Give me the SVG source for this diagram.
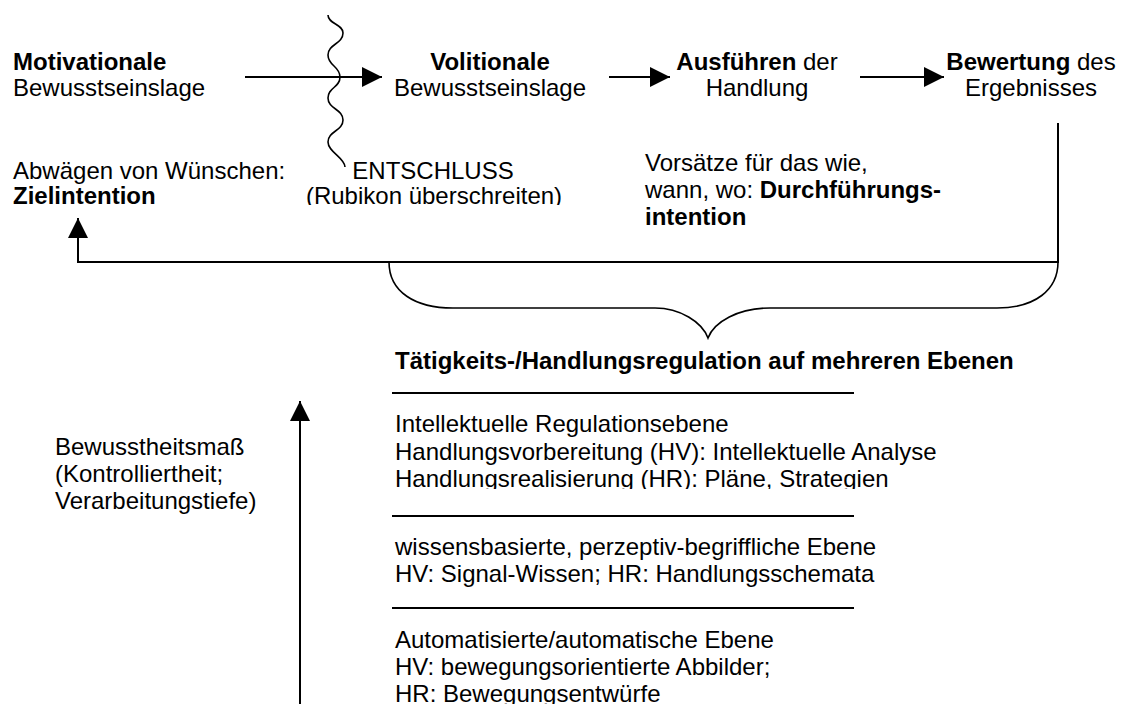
<svg xmlns="http://www.w3.org/2000/svg" width="1122" height="704" viewBox="0 0 1122 704">
<style>
text{font-family:"Liberation Sans",Arial,sans-serif;font-size:24px;fill:#000}
.b{font-weight:bold}
.c{text-anchor:middle}
.ln{fill:none;stroke:#000;stroke-width:2}
.thin{fill:none;stroke:#000;stroke-width:1.6}
</style>
<defs>
<marker id="ah" markerUnits="userSpaceOnUse" markerWidth="20" markerHeight="20" refX="20" refY="10" orient="auto" viewBox="0 0 20 20">
<path d="M0,0 L20,10 L0,20 Z" fill="#000"/>
</marker>
<clipPath id="clipR"><rect x="0" y="0" width="1122" height="205"/></clipPath>
<clipPath id="clipH"><rect x="0" y="0" width="1122" height="489"/></clipPath>
</defs>

<g id="connectors">
<line class="ln" x1="245" y1="77" x2="382" y2="77" marker-end="url(#ah)"/>
<line class="ln" x1="609" y1="77" x2="670" y2="77" marker-end="url(#ah)"/>
<line class="ln" x1="860" y1="77" x2="944" y2="77" marker-end="url(#ah)"/>
<polyline class="ln" points="1058,123 1058,262 78,262 78,218" marker-end="url(#ah)"/>
<line class="ln" x1="300" y1="704" x2="300" y2="401" marker-end="url(#ah)"/>
</g>

<g id="rubikon-line">
<path class="thin" d="M328,15 C328,24 343,24 343,33 C343,44 328,44 328,55 C328,66 340,66 340,77 C340,88 328,87 328,98 C328,109 343,109 343,120 C343,131 328,131 328,142 C328,152 345,158 345,167"/>
</g>

<g id="brace">
<path class="thin" d="M389,262 C389,292 415,308 453,308 L655,308 C680,308 702,322 708,338 C714,322 738,308 770,308 L997,308 C1035,308 1058,290 1058,262"/>
</g>

<g id="motivationale">
<text x="13" y="70"><tspan class="b">Motivationale</tspan></text>
<text x="13" y="96">Bewusstseinslage</text>
</g>

<g id="volitionale">
<text class="c" x="490" y="70"><tspan class="b">Volitionale</tspan></text>
<text class="c" x="490" y="96">Bewusstseinslage</text>
</g>

<g id="ausfuehren">
<text class="c" x="757" y="70"><tspan class="b">Ausführen</tspan> der</text>
<text class="c" x="757" y="96">Handlung</text>
</g>

<g id="bewertung">
<text class="c" x="1031" y="70"><tspan class="b">Bewertung</tspan> des</text>
<text class="c" x="1031" y="96">Ergebnisses</text>
</g>

<g id="zielintention">
<text x="13" y="179">Abwägen von Wünschen:</text>
<text x="13" y="204" class="b">Zielintention</text>
</g>

<g id="entschluss">
<text class="c" x="433" y="179">ENTSCHLUSS</text>
<text class="c" x="434" y="204" clip-path="url(#clipR)">(Rubikon überschreiten)</text>
</g>

<g id="durchfuehrungsintention">
<text x="645" y="171">Vorsätze für das wie,</text>
<text x="645" y="198">wann, wo: <tspan class="b">Durchführungs-</tspan></text>
<text x="645" y="225" class="b">intention</text>
</g>

<g id="regulation">
<text x="395" y="369" class="b">Tätigkeits-/Handlungsregulation auf mehreren Ebenen</text>
<line class="ln" x1="392" y1="393" x2="854" y2="393"/>
<text x="395" y="432">Intellektuelle Regulationsebene</text>
<text x="395" y="459.5">Handlungsvorbereitung (HV): Intellektuelle Analyse</text>
<text x="395" y="487" clip-path="url(#clipH)">Handlungsrealisierung (HR): Pläne, Strategien</text>
<line class="ln" x1="392" y1="516" x2="854" y2="516"/>
<text x="395" y="555">wissensbasierte, perzeptiv-begriffliche Ebene</text>
<text x="395" y="582">HV: Signal-Wissen; HR: Handlungsschemata</text>
<line class="ln" x1="392" y1="608" x2="854" y2="608"/>
<text x="395" y="648">Automatisierte/automatische Ebene</text>
<text x="395" y="675">HV: bewegungsorientierte Abbilder;</text>
<text x="395" y="702">HR: Bewegungsentwürfe</text>
</g>

<g id="bewusstheit">
<text x="55" y="455">Bewusstheitsmaß</text>
<text x="55" y="482">(Kontrolliertheit;</text>
<text x="55" y="509">Verarbeitungstiefe)</text>
</g>
</svg>
